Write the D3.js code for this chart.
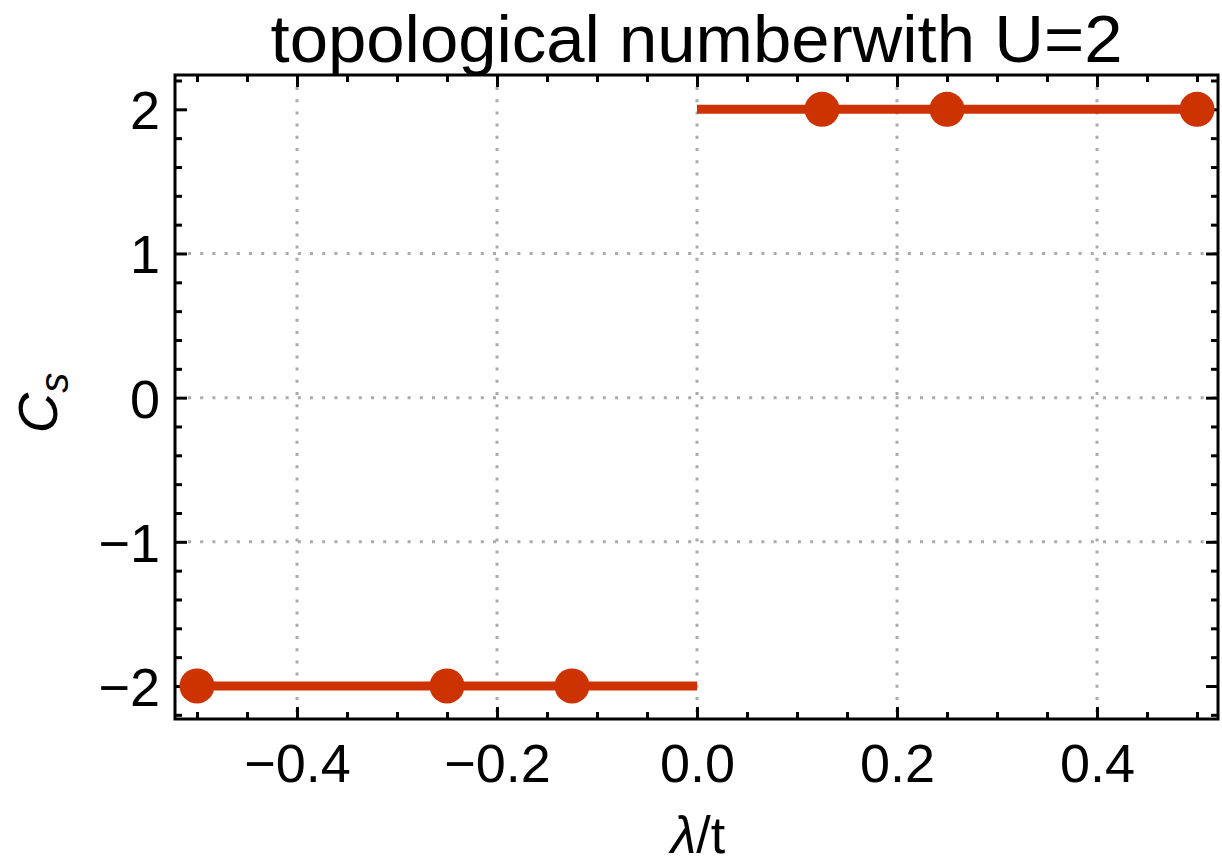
<!DOCTYPE html>
<html>
<head>
<meta charset="utf-8">
<script src="https://cdn.jsdelivr.net/npm/d3@7"></script>
<style>
  body { margin: 0; background: #ffffff; }
  svg { display: block; font-family: "Liberation Sans", Arial, sans-serif; }
</style>
</head>
<body>
<div id="chart"></div>
<script>
/* Data */
const pointLambda = [-0.5, -0.25, -0.125, 0.125, 0.25, 0.5];
const pointCs = [-2, -2, -2, 2, 2, 2];

// horizontal plateau segments
const segStart = [-0.5, 0];
const segEnd = [0, 0.5];
const segCs = [-2, 2];

const xMajorTicks = [-0.4, -0.2, 0.0, 0.2, 0.4];
const yMajorTicks = [-2, -1, 0, 1, 2];
const yGridLines = [-1, 0, 1];

const width = 1222;
const height = 863;

const plot = { left: 175, right: 1218, top: 75, bottom: 719 };

const red = "#cc3300";

const svg = d3.select("#chart")
  .append("svg")
  .attr("width", width)
  .attr("height", height);

const x = d3.scaleLinear()
  .domain([-0.522, 0.521])
  .range([plot.left, plot.right]);

const y = d3.scaleLinear()
  .domain([-2.229, 2.238])
  .range([plot.bottom, plot.top]);

// minor ticks every 0.05 on x, every 0.2 on y (skipping the majors)
const xMinorTicks = d3.range(-0.5, 0.5001, 0.05)
  .map(v => +v.toFixed(2))
  .filter(v => !xMajorTicks.some(m => Math.abs(m - v) < 1e-6));
const yMinorTicks = d3.range(-2.2, 2.2001, 0.2)
  .map(v => +v.toFixed(1))
  .filter(v => !yMajorTicks.some(m => Math.abs(m - v) < 1e-6));

/* Grid lines */
const grid = svg.append("g")
  .attr("stroke", "#aaaaaa")
  .attr("stroke-width", 3)
  .attr("stroke-dasharray", "3,9.2");

grid.selectAll(".vgrid")
  .data(xMajorTicks)
  .join("line")
    .attr("class", "vgrid")
    .attr("x1", d => x(d))
    .attr("x2", d => x(d))
    .attr("y1", plot.top + 12)
    .attr("y2", plot.bottom);

grid.selectAll(".hgrid")
  .data(yGridLines)
  .join("line")
    .attr("class", "hgrid")
    .attr("x1", plot.left + 13)
    .attr("x2", plot.right)
    .attr("y1", d => y(d))
    .attr("y2", d => y(d));

/* Axes, ticks pointing inwards on all four sides */
const majorLen = 12;
const minorLen = 7;

function styleAxis(g) {
  g.select(".domain").remove();
  g.selectAll(".tick line")
    .attr("stroke", "#000")
    .attr("stroke-width", 3);
}

svg.append("g")
  .attr("transform", `translate(0,${plot.bottom})`)
  .call(d3.axisBottom(x).tickValues(xMinorTicks).tickSize(-minorLen).tickFormat(""))
  .call(styleAxis);

const xAxisBottom = svg.append("g")
  .attr("transform", `translate(0,${plot.bottom})`)
  .call(d3.axisBottom(x).tickValues(xMajorTicks).tickSize(-majorLen).tickFormat(d3.format(".1f")))
  .call(styleAxis);

xAxisBottom.selectAll(".tick text")
  .attr("y", 63)
  .attr("dy", 0)
  .attr("fill", "#000")
  .attr("font-size", 54)
  .attr("font-family", "Liberation Sans, Arial, sans-serif");

svg.append("g")
  .attr("transform", `translate(0,${plot.top})`)
  .call(d3.axisTop(x).tickValues(xMinorTicks).tickSize(-minorLen).tickFormat(""))
  .call(styleAxis);

svg.append("g")
  .attr("transform", `translate(0,${plot.top})`)
  .call(d3.axisTop(x).tickValues(xMajorTicks).tickSize(-majorLen).tickFormat(""))
  .call(styleAxis);

svg.append("g")
  .attr("transform", `translate(${plot.left},0)`)
  .call(d3.axisLeft(y).tickValues(yMinorTicks).tickSize(-minorLen).tickFormat(""))
  .call(styleAxis);

const yAxisLeft = svg.append("g")
  .attr("transform", `translate(${plot.left},0)`)
  .call(d3.axisLeft(y).tickValues(yMajorTicks).tickSize(-majorLen).tickFormat(d3.format("d")))
  .call(styleAxis);

yAxisLeft.selectAll(".tick text")
  .attr("x", -15)
  .attr("dy", "0.36em")
  .attr("fill", "#000")
  .attr("font-size", 54)
  .attr("font-family", "Liberation Sans, Arial, sans-serif");

svg.append("g")
  .attr("transform", `translate(${plot.right},0)`)
  .call(d3.axisRight(y).tickValues(yMinorTicks).tickSize(-minorLen).tickFormat(""))
  .call(styleAxis);

svg.append("g")
  .attr("transform", `translate(${plot.right},0)`)
  .call(d3.axisRight(y).tickValues(yMajorTicks).tickSize(-majorLen).tickFormat(""))
  .call(styleAxis);

/* Frame */
svg.append("rect")
  .attr("x", plot.left)
  .attr("y", plot.top)
  .attr("width", plot.right - plot.left)
  .attr("height", plot.bottom - plot.top)
  .attr("fill", "none")
  .attr("stroke", "#000")
  .attr("stroke-width", 3);

/* Data: plateaus and points */
svg.append("g")
  .selectAll("line")
  .data(segStart.map((s, i) => ({ x0: s, x1: segEnd[i], v: segCs[i] })))
  .join("line")
    .attr("x1", d => x(d.x0))
    .attr("x2", d => x(d.x1))
    .attr("y1", d => y(d.v))
    .attr("y2", d => y(d.v))
    .attr("stroke", red)
    .attr("stroke-width", 9);

svg.append("g")
  .selectAll("circle")
  .data(pointLambda.map((l, i) => ({ l: l, c: pointCs[i] })))
  .join("circle")
    .attr("cx", d => x(d.l))
    .attr("cy", d => y(d.c))
    .attr("r", 17.5)
    .attr("fill", red);

/* Titles */
svg.append("text")
  .attr("x", (plot.left + plot.right) / 2)
  .attr("y", 62)
  .attr("text-anchor", "middle")
  .attr("font-size", 67)
  .attr("textLength", 852)
  .attr("lengthAdjust", "spacingAndGlyphs")
  .text("topological numberwith U=2");

const xLabel = svg.append("text")
  .attr("x", 698)
  .attr("y", 853)
  .attr("text-anchor", "middle")
  .attr("font-size", 52);
xLabel.append("tspan").attr("font-style", "italic").text("λ");
xLabel.append("tspan").text("/t");

const yLabel = svg.append("text")
  .attr("transform", "translate(57,403) rotate(-90)")
  .attr("text-anchor", "middle")
  .attr("font-size", 56)
  .attr("font-style", "italic");
yLabel.append("tspan").text("C");
yLabel.append("tspan")
  .attr("font-size", 40)
  .attr("dy", 11)
  .text("s");
</script>
</body>
</html>
